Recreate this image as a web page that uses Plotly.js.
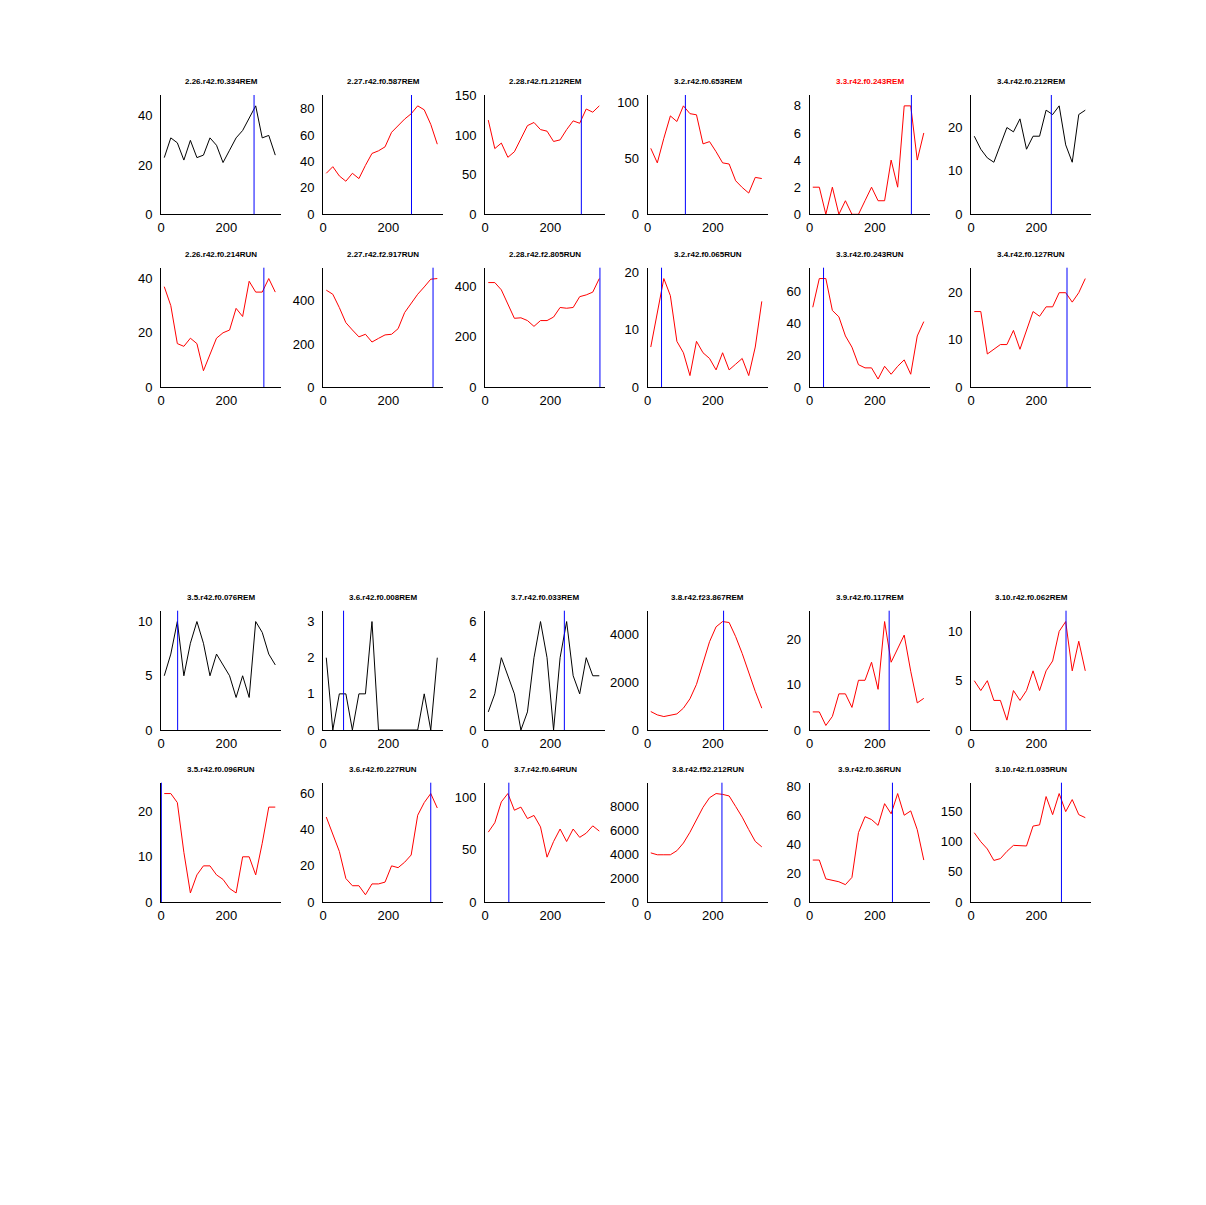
<!DOCTYPE html>
<html>
<head>
<meta charset="utf-8">
<script src="https://cdn.plot.ly/plotly-3.0.1.min.js"></script>
<style>html,body{margin:0;padding:0;background:#fff;}#chart{width:1206px;height:1205px;}</style>
</head>
<body>
<div id="chart"></div>
<script>
// ---------- data ----------
const xBins = [10,30,50,70,90,110,130,150,170,190,210,230,250,270,290,310,330,350];

const titles = [
  "2.26.r42.f0.334REM","2.27.r42.f0.587REM","2.28.r42.f1.212REM","3.2.r42.f0.653REM","3.3.r42.f0.243REM","3.4.r42.f0.212REM",
  "2.26.r42.f0.214RUN","2.27.r42.f2.917RUN","2.28.r42.f2.805RUN","3.2.r42.f0.065RUN","3.3.r42.f0.243RUN","3.4.r42.f0.127RUN",
  "3.5.r42.f0.076REM","3.6.r42.f0.008REM","3.7.r42.f0.033REM","3.8.r42.f23.867REM","3.9.r42.f0.117REM","3.10.r42.f0.062REM",
  "3.5.r42.f0.096RUN","3.6.r42.f0.227RUN","3.7.r42.f0.64RUN","3.8.r42.f52.212RUN","3.9.r42.f0.36RUN","3.10.r42.f1.035RUN"
];

const rem_2_26 = [23,31,29,22,30,23,24,31,28,21,26,31,34,39,44,31,32,24];
const rem_2_27 = [31,36,29,25,31,27,37,46,48,51,62,67,72,76,82,79,68,53];
const rem_2_28 = [119,83,90,72,79,96,112,116,107,105,92,94,107,118,115,133,129,137];
const rem_3_2  = [59,46,68,88,83,97,90,89,63,65,56,46,45,30,24,19,33,32];
const rem_3_3  = [2,2,0,2,0,1,0,0,1,2,1,1,4,2,8,8,4,6];
const rem_3_4  = [18,15,13,12,16,20,19,22,15,18,18,24,23,25,16,12,23,24];
const run_2_26 = [37,30,16,15,18,16,6,12,18,20,21,29,26,39,35,35,40,35];
const run_2_27 = [450,431,369,299,265,233,245,209,226,242,245,271,346,388,431,465,501,504];
const run_2_28 = [415,415,386,330,273,275,264,241,264,264,278,316,313,316,359,366,377,431];
const run_3_2  = [7,13,19,16,8,6,2,8,6,5,3,6,3,4,5,2,7,15];
const run_3_3  = [50,68,68,48,44,32,25,14,12,12,5,13,8,13,17,8,32,41];
const run_3_4  = [16,16,7,8,9,9,12,8,12,16,15,17,17,20,20,18,20,23];
const rem_3_5  = [5,7,10,5,8,10,8,5,7,6,5,3,5,3,10,9,7,6];
const rem_3_6  = [2,0,1,1,0,1,1,3,0,0,0,0,0,0,0,1,0,2];
const rem_3_7  = [1,2,4,3,2,0,1,4,6,4,0,4,6,3,2,4,3,3];
const rem_3_8  = [770,630,560,600,670,910,1300,1900,2770,3680,4300,4520,4480,3890,3190,2390,1610,910];
const rem_3_9  = [4,4,1,3,8,8,5,11,11,15,9,24,15,18,21,13,6,7];
const rem_3_10 = [5,4,5,3,3,1,4,3,4,6,4,6,7,10,11,6,9,6];
const run_3_5  = [24,24,22,11,2,6,8,8,6,5,3,2,10,10,6,13,21,21];
const run_3_6  = [47,37,28,13,9,9,4,10,10,11,20,19,22,26,48,55,60,52];
const run_3_7  = [67,76,96,104,88,91,80,83,72,43,58,70,58,70,62,66,73,68];
const run_3_8  = [4100,3940,3940,3940,4280,4920,5820,6800,7900,8700,9050,8980,8850,7970,7080,6040,5060,4600];
const run_3_9  = [29,29,16,15,14,12,17,48,59,57,53,68,61,75,60,63,50,29];
const run_3_10 = [115,100,88,69,72,84,94,93,93,126,128,175,145,180,150,170,145,140];

const panelSeries = [
  rem_2_26, rem_2_27, rem_2_28, rem_3_2, rem_3_3, rem_3_4,
  run_2_26, run_2_27, run_2_28, run_3_2, run_3_3, run_3_4,
  rem_3_5, rem_3_6, rem_3_7, rem_3_8, rem_3_9, rem_3_10,
  run_3_5, run_3_6, run_3_7, run_3_8, run_3_9, run_3_10
];

// vertical marker positions
const markerPos = [285,271,295,116,312,246, 315,337,352,43,43,294, 51,63,243,233,244,291, 1,330,73,228,254,277];

// y tick steps
const yTickStep = [20,20,50,50,2,10, 20,200,200,10,20,10, 5,1,2,2000,10,5, 10,20,50,2000,20,50];
const xTickVals = [0, 200];

// series colours: 'k' black, 'r' red
const lineColorCode = ['k','r','r','r','r','k', 'r','r','r','r','r','r', 'k','k','k','r','r','r', 'r','r','r','r','r','r'];
const titleColorCode = ['k','k','k','k','r','k', 'k','k','k','k','k','k', 'k','k','k','k','k','k', 'k','k','k','k','k','k'];

// ---------- layout ----------
const W = 1206, H = 1205;
const colLeft = [161, 323, 485, 647.5, 809.5, 971];
const axW = 120;
const rowTop = [95, 267.7, 610.7, 782.7];
const axH = 119.3;
const colorMap = {k: '#000000', r: '#ff0000'};
const tickFont = {family: 'Liberation Sans, Arial, sans-serif', size: 13, color: '#000'};

const traces = [];
const layout = {
  width: W, height: H,
  margin: {l: 0, r: 0, t: 0, b: 0},
  paper_bgcolor: '#fff', plot_bgcolor: 'rgba(0,0,0,0)',
  showlegend: false,
  annotations: [], shapes: []
};

for (let i = 0; i < 24; i++) {
  const r = Math.floor(i / 6), c = i % 6;
  const n = i + 1;
  const xa = n === 1 ? 'xaxis' : 'xaxis' + n;
  const ya = n === 1 ? 'yaxis' : 'yaxis' + n;
  const xr = n === 1 ? 'x' : 'x' + n;
  const yr = n === 1 ? 'y' : 'y' + n;
  const vals = panelSeries[i];
  const ymax = 1.1 * Math.max(...vals);
  const xmax = 1.05 * Math.max(...xBins);

  traces.push({
    x: xBins, y: vals, type: 'scatter', mode: 'lines',
    xaxis: xr, yaxis: yr,
    line: {color: colorMap[lineColorCode[i]], width: 1},
    hoverinfo: 'skip'
  });

  const x0 = colLeft[c], x1 = colLeft[c] + axW;
  const yTop = rowTop[r], yBot = rowTop[r] + axH;

  layout[xa] = {
    domain: [x0 / W, x1 / W], anchor: yr,
    range: [0, xmax], autorange: false,
    showgrid: false, zeroline: false,
    showline: true, linecolor: '#000', linewidth: 1, mirror: false,
    ticks: '', tickvals: xTickVals, ticktext: xTickVals.map(String),
    tickfont: tickFont, ticklabelstandoff: 1, fixedrange: true
  };
  layout[ya] = {
    domain: [1 - yBot / H, 1 - yTop / H], anchor: xr,
    range: [0, ymax], autorange: false,
    showgrid: false, zeroline: false,
    showline: true, linecolor: '#000', linewidth: 1, mirror: false,
    ticks: '', tick0: 0, dtick: yTickStep[i], tickformat: 'd',
    tickfont: tickFont, ticklabelstandoff: 5, fixedrange: true
  };

  layout.shapes.push({
    type: 'line', xref: xr, yref: yr + ' domain',
    x0: markerPos[i], x1: markerPos[i], y0: 0, y1: 1,
    line: {color: '#0000ff', width: 1}, layer: 'above'
  });

  layout.annotations.push({
    xref: 'paper', yref: 'paper',
    x: (x0 + x1) / 2 / W, y: 1 - (yTop - 13) / H,
    xanchor: 'center', yanchor: 'middle',
    text: '<b>' + titles[i] + '</b>', showarrow: false,
    font: {family: 'Liberation Sans, Arial, sans-serif', size: 8, color: colorMap[titleColorCode[i]]}
  });
}

Plotly.newPlot('chart', traces, layout, {staticPlot: true, displayModeBar: false});
</script>
</body>
</html>
